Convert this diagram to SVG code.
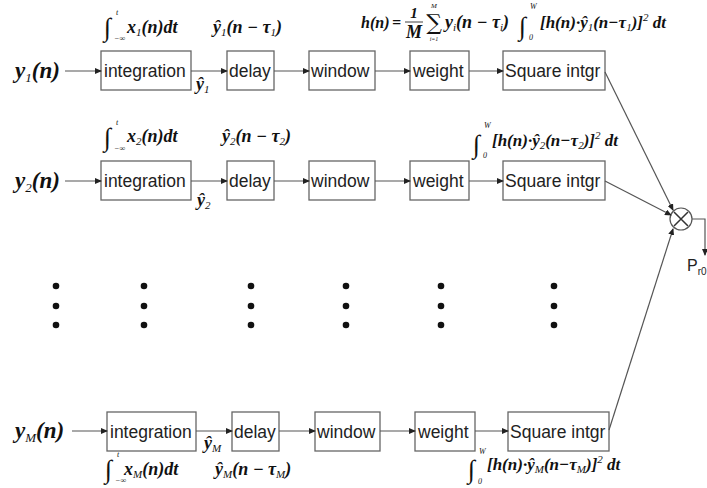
<svg xmlns="http://www.w3.org/2000/svg" width="707" height="488" viewBox="0 0 707 488">
<style>
.box{fill:#fff;stroke:#666;stroke-width:1.3}
.bt{font-family:"Liberation Sans",Arial,sans-serif;font-size:17.5px;fill:#222}
.ln{fill:none;stroke:#555;stroke-width:1.2}
.m{font-family:"Liberation Serif","Times New Roman",serif;font-style:italic;font-weight:bold;font-size:18px;fill:#111}
.b{font-size:17px}
.s{font-size:11px;font-weight:normal}
.int{font-family:"Liberation Serif","DejaVu Serif",serif;font-size:26px;fill:#111}
.lim{font-family:"Liberation Serif",serif;font-style:italic;font-size:8px;fill:#111}
.yl{font-family:"Liberation Serif","Times New Roman",serif;font-style:italic;font-weight:bold;font-size:23px;fill:#111}
.ys{font-size:13px;font-weight:normal}
.dot{fill:#111}
</style>
<defs>
<marker id="ah" markerWidth="7" markerHeight="6" refX="6" refY="3" orient="auto" markerUnits="userSpaceOnUse">
<path d="M0,0 L7,3 L0,6 Z" fill="#222"/>
</marker>
</defs>

<!-- input labels -->
<text class="yl" x="15" y="78">y<tspan class="ys" dy="4">1</tspan><tspan dy="-4">(n)</tspan></text>
<text class="yl" x="15" y="188">y<tspan class="ys" dy="4">2</tspan><tspan dy="-4">(n)</tspan></text>
<text class="yl" x="15" y="438">y<tspan class="ys" dy="4">M</tspan><tspan dy="-4">(n)</tspan></text>

<!-- row 1 -->
<g id="int1"><rect class="box" x="101" y="51" width="90" height="39"/><text class="bt" x="104" y="77">integration</text></g>
<g id="delay1"><rect class="box" x="227" y="51" width="47" height="39"/><text class="bt" x="229" y="77">delay</text></g>
<g id="window1"><rect class="box" x="309" y="51" width="66" height="39"/><text class="bt" x="311" y="77">window</text></g>
<g id="weight1"><rect class="box" x="410" y="51" width="59" height="39"/><text class="bt" x="413" y="77">weight</text></g>
<g id="sq1"><rect class="box" x="503" y="51" width="102" height="39"/><text class="bt" x="505" y="77">Square intgr</text></g>

<!-- row 2 -->
<g id="int2"><rect class="box" x="101" y="161" width="90" height="39"/><text class="bt" x="104" y="187">integration</text></g>
<g id="delay2"><rect class="box" x="227" y="161" width="47" height="39"/><text class="bt" x="229" y="187">delay</text></g>
<g id="window2"><rect class="box" x="309" y="161" width="66" height="39"/><text class="bt" x="311" y="187">window</text></g>
<g id="weight2"><rect class="box" x="410" y="161" width="59" height="39"/><text class="bt" x="413" y="187">weight</text></g>
<g id="sq2"><rect class="box" x="503" y="161" width="102" height="39"/><text class="bt" x="505" y="187">Square intgr</text></g>

<!-- row M -->
<g id="intM"><rect class="box" x="107" y="412" width="89" height="39"/><text class="bt" x="110" y="438">integration</text></g>
<g id="delayM"><rect class="box" x="232" y="412" width="47" height="39"/><text class="bt" x="234" y="438">delay</text></g>
<g id="windowM"><rect class="box" x="315" y="412" width="65" height="39"/><text class="bt" x="317" y="438">window</text></g>
<g id="weightM"><rect class="box" x="415" y="412" width="60" height="39"/><text class="bt" x="418" y="438">weight</text></g>
<g id="sqM"><rect class="box" x="508" y="412" width="101" height="39"/><text class="bt" x="510" y="438">Square intgr</text></g>

<!-- multiplier -->
<g id="mult">
<circle cx="681" cy="219" r="11" fill="#fff" stroke="#555" stroke-width="1.2"/>
<path d="M674,212 L688,226 M688,212 L674,226" stroke="#333" stroke-width="1.5"/>
</g>
<g id="out"><text x="687" y="271" font-family="Liberation Sans,Arial,sans-serif" font-size="16" fill="#222">P<tspan font-size="10" dy="4">r0</tspan></text></g>

<!-- connectors -->
<g id="connectors">
<path class="ln" marker-end="url(#ah)" d="M65,71 H101"/>
<path class="ln" marker-end="url(#ah)" d="M191,71 H227"/>
<path class="ln" marker-end="url(#ah)" d="M274,71 H309"/>
<path class="ln" marker-end="url(#ah)" d="M375,71 H410"/>
<path class="ln" marker-end="url(#ah)" d="M469,71 H503"/>
<path class="ln" marker-end="url(#ah)" d="M65,181 H101"/>
<path class="ln" marker-end="url(#ah)" d="M191,181 H227"/>
<path class="ln" marker-end="url(#ah)" d="M274,181 H309"/>
<path class="ln" marker-end="url(#ah)" d="M375,181 H410"/>
<path class="ln" marker-end="url(#ah)" d="M469,181 H503"/>
<path class="ln" marker-end="url(#ah)" d="M72,431 H107"/>
<path class="ln" marker-end="url(#ah)" d="M196,431 H232"/>
<path class="ln" marker-end="url(#ah)" d="M279,431 H315"/>
<path class="ln" marker-end="url(#ah)" d="M380,431 H415"/>
<path class="ln" marker-end="url(#ah)" d="M475,431 H508"/>
<path class="ln" marker-end="url(#ah)" d="M605,72 L673,210"/>
<path class="ln" marker-end="url(#ah)" d="M605,181 L671,215"/>
<path class="ln" marker-end="url(#ah)" d="M609,430 L673,229"/>
<path class="ln" marker-end="url(#ah)" d="M692,219 H705 V255"/>
</g>

<!-- dots -->
<g id="dots">
<circle class="dot" cx="56" cy="286" r="3.3"/><circle class="dot" cx="56" cy="306" r="3.3"/><circle class="dot" cx="56" cy="325" r="3.3"/>
<circle class="dot" cx="144" cy="286" r="3.3"/><circle class="dot" cx="144" cy="306" r="3.3"/><circle class="dot" cx="144" cy="325" r="3.3"/>
<circle class="dot" cx="251" cy="286" r="3.3"/><circle class="dot" cx="251" cy="306" r="3.3"/><circle class="dot" cx="251" cy="325" r="3.3"/>
<circle class="dot" cx="346" cy="286" r="3.3"/><circle class="dot" cx="346" cy="306" r="3.3"/><circle class="dot" cx="346" cy="325" r="3.3"/>
<circle class="dot" cx="441" cy="286" r="3.3"/><circle class="dot" cx="441" cy="306" r="3.3"/><circle class="dot" cx="441" cy="325" r="3.3"/>
<circle class="dot" cx="554" cy="286" r="3.3"/><circle class="dot" cx="554" cy="306" r="3.3"/><circle class="dot" cx="554" cy="325" r="3.3"/>
</g>

<!-- formulas row 1 -->
<g id="f1">
<text class="int" x="104" y="36">∫</text><text class="lim" x="116" y="15">t</text><text class="lim" x="114" y="41">−∞</text>
<text class="m" x="127" y="33">x<tspan class="s" dy="3">1</tspan><tspan dy="-3">(n)dt</tspan></text>
<text class="m" x="213" y="33">ŷ<tspan class="s" dy="3">1</tspan><tspan dy="-3">(n − τ</tspan><tspan class="s" dy="3">1</tspan><tspan dy="-3">)</tspan></text>
<text class="m" x="196" y="90">ŷ<tspan class="s" dy="3">1</tspan></text>
<text class="m" x="361" y="28" style="font-size:16px">h(n)</text>
<text class="m" x="392" y="28" style="font-size:16px">=</text>
<text class="m" x="414" y="18" text-anchor="middle" style="font-size:15px">1</text>
<line x1="405" y1="22" x2="423" y2="22" stroke="#111" stroke-width="0.8"/>
<text class="m" x="414" y="38" text-anchor="middle">M</text>
<text x="434" y="30" text-anchor="middle" font-family="DejaVu Serif,serif" font-size="22" fill="#111">∑</text>
<text class="lim" x="434" y="8" text-anchor="middle" style="font-size:7px">M</text>
<text class="lim" x="434" y="41" text-anchor="middle" style="font-size:6px">i=1</text>
<text class="m" x="445" y="28">y<tspan class="s" dy="3">i</tspan><tspan dy="-3">(n − τ</tspan><tspan class="s" dy="3">i</tspan><tspan dy="-3">)</tspan></text>
<text class="int" x="519" y="35">∫</text><text class="lim" x="530" y="9">W</text><text class="lim" x="529" y="40">0</text>
<text class="m b" x="540" y="28">[h(n)·ŷ<tspan class="s" dy="3">1</tspan><tspan dy="-3">(n−τ</tspan><tspan class="s" dy="3">1</tspan><tspan dy="-3">)]</tspan><tspan class="s" dy="-7">2</tspan><tspan dy="7"> dt</tspan></text>
</g>

<!-- formulas row 2 -->
<g id="f2">
<text class="int" x="104" y="146">∫</text><text class="lim" x="116" y="125">t</text><text class="lim" x="114" y="151">−∞</text>
<text class="m" x="127" y="142">x<tspan class="s" dy="3">2</tspan><tspan dy="-3">(n)dt</tspan></text>
<text class="m" x="222" y="142">ŷ<tspan class="s" dy="3">2</tspan><tspan dy="-3">(n − τ</tspan><tspan class="s" dy="3">2</tspan><tspan dy="-3">)</tspan></text>
<text class="m" x="197" y="206">ŷ<tspan class="s" dy="3">2</tspan></text>
<text class="int" x="473" y="153">∫</text><text class="lim" x="484" y="128">W</text><text class="lim" x="483" y="158">0</text>
<text class="m b" x="492" y="146">[h(n)·ŷ<tspan class="s" dy="3">2</tspan><tspan dy="-3">(n−τ</tspan><tspan class="s" dy="3">2</tspan><tspan dy="-3">)]</tspan><tspan class="s" dy="-7">2</tspan><tspan dy="7"> dt</tspan></text>
</g>

<!-- formulas row M -->
<g id="fM">
<text class="m" x="204" y="449">ŷ<tspan class="s" dy="3">M</tspan></text>
<text class="int" x="105" y="478">∫</text><text class="lim" x="117" y="457">t</text><text class="lim" x="115" y="483">−∞</text>
<text class="m" x="124" y="475">x<tspan class="s" dy="3">M</tspan><tspan dy="-3">(n)dt</tspan></text>
<text class="m" x="215" y="475">ŷ<tspan class="s" dy="3">M</tspan><tspan dy="-3">(n − τ</tspan><tspan class="s" dy="3">M</tspan><tspan dy="-3">)</tspan></text>
<text class="int" x="468" y="478">∫</text><text class="lim" x="479" y="454">W</text><text class="lim" x="478" y="484">0</text>
<text class="m b" x="487" y="470">[h(n)·ŷ<tspan class="s" dy="3">M</tspan><tspan dy="-3">(n−τ</tspan><tspan class="s" dy="3">M</tspan><tspan dy="-3">)]</tspan><tspan class="s" dy="-7">2</tspan><tspan dy="7"> dt</tspan></text>
</g>
</svg>
